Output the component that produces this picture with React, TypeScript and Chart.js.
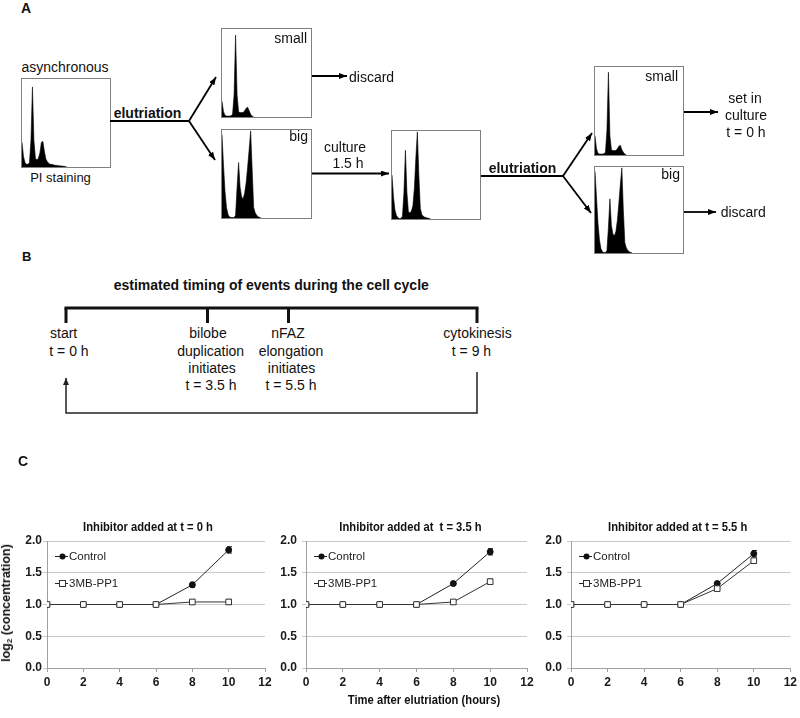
import React, { useEffect, useRef } from 'react';
import { Chart, registerables } from 'chart.js';
Chart.register(...registerables);

// ---------- Panel A: DNA-content histograms (relative height per channel bin, 60 bins) ----------
const histAsync = [28, 12, 5, 3, 3, 5, 30, 91, 30, 10, 8, 10, 16, 28, 29, 18, 9, 6, 4, 3, 3, 2.5, 2, 2, 1.5, 1.5, 1.2, 1, 0.8, 0.5, 0];
const histSmall1 = [18, 6, 2, 1, 1, 1, 1.5, 3, 25, 93, 25, 6, 5, 5, 5, 7, 10, 11, 7, 3, 1, 0];
const histBig1 = [95, 60, 30, 12, 4, 1, 0.5, 0.5, 0.5, 3, 35, 63, 35, 24, 22, 28, 40, 58, 78, 99, 55, 12, 6, 3, 1.5, 0.5, 0];
const histMid = [50, 25, 10, 4, 1.5, 0.5, 0.5, 3, 30, 78, 30, 8, 7, 9, 15, 35, 70, 99, 50, 12, 5, 3, 2, 1.5, 1, 0.5, 0];
const histSmall2 = [22, 7, 2, 1, 1, 1, 1.5, 3, 28, 94, 22, 6, 5, 5, 5, 7, 10, 11, 6, 3, 1, 0];
const histBig2 = [95, 65, 35, 15, 5, 1.5, 0.5, 0.5, 3, 30, 63, 32, 22, 20, 25, 38, 58, 80, 99, 50, 12, 6, 3, 1.5, 0.5, 0];

// ---------- Panel C ----------
const hours = [0, 2, 4, 6, 8, 10];
const xTicks = [0, 2, 4, 6, 8, 10, 12];
const yTicks = [0, 0.5, 1, 1.5, 2];
const seriesNames = ['Control', '3MB-PP1'];
const panelTitles = ['Inhibitor added at t = 0 h', 'Inhibitor added at  t = 3.5 h', 'Inhibitor added at t = 5.5 h'];

const control0 = [1, 1, 1, 1, 1.31, 1.86];
const inhib0 = [1, 1, 1, 1, 1.04, 1.04];
const controlErr0 = [0, 0, 0, 0, 0.04, 0.05];
const inhibErr0 = [0, 0, 0, 0, 0.03, 0.04];

const control35 = [1, 1, 1, 1, 1.33, 1.83];
const inhib35 = [1, 1, 1, 1, 1.04, 1.36];
const controlErr35 = [0, 0, 0, 0, 0.03, 0.05];
const inhibErr35 = [0, 0, 0, 0, 0.03, 0.04];

const control55 = [1, 1, 1, 1, 1.33, 1.8];
const inhib55 = [1, 1, 1, 1, 1.25, 1.69];
const controlErr55 = [0, 0, 0, 0, 0.03, 0.05];
const inhibErr55 = [0, 0, 0, 0, 0.03, 0.04];

const SANS = '"Liberation Sans", Arial, Helvetica, sans-serif';
const NARROW_SCALE = 0.83;

function Txt(props: {
  x: number;
  base: number;
  text: string;
  size?: number;
  bold?: boolean;
  align?: 'left' | 'center' | 'right';
  narrow?: boolean;
}) {
  const size = props.size ?? 14;
  const lh = Math.round(size * 1.25);
  const top = props.base - ((lh - 1.117 * size) / 2 + 0.905 * size);
  const style: any = {
    position: 'absolute',
    top,
    lineHeight: lh + 'px',
    fontSize: size,
    fontWeight: props.bold ? 'bold' : 'normal',
    fontFamily: SANS,
    whiteSpace: 'pre',
    color: '#111',
  };
  const align = props.align ?? 'left';
  const sx = props.narrow ? ` scaleX(${NARROW_SCALE})` : '';
  if (align === 'left') {
    style.left = props.x;
    if (sx) {
      style.transform = sx;
      style.transformOrigin = 'left center';
    }
  } else if (align === 'center') {
    style.left = props.x;
    style.transform = 'translateX(-50%)' + sx;
  } else style.right = 800 - props.x;
  return <div style={style}>{props.text}</div>;
}

function Histo(props: { data: number[]; left: number; top: number; w: number; h: number }) {
  const ref = useRef<HTMLCanvasElement>(null);
  useEffect(() => {
    const chart = new Chart(ref.current!, {
      type: 'line',
      data: {
        datasets: [
          {
            data: props.data.map((v, i) => ({ x: i, y: v })),
            fill: 'origin',
            backgroundColor: '#000',
            borderColor: '#000',
            borderWidth: 0.6,
            pointRadius: 0,
            tension: 0,
          },
        ],
      },
      options: {
        responsive: false,
        animation: false,
        events: [],
        layout: { padding: 0 },
        plugins: { legend: { display: false }, tooltip: { enabled: false } },
        scales: {
          x: { type: 'linear', display: false, min: 0, max: 59 },
          y: { display: false, min: 0, max: 100 },
        },
      },
    });
    return () => chart.destroy();
  }, []);
  return (
    <div
      style={{
        position: 'absolute',
        left: props.left,
        top: props.top,
        width: props.w,
        height: props.h,
        border: '1px solid #808080',
        boxSizing: 'border-box',
        background: '#fff',
      }}
    >
      <canvas ref={ref} width={props.w - 2} height={props.h - 2} style={{ display: 'block' }} />
    </div>
  );
}

type TCProps = {
  left: number;
  width: number;
  yw: number;
  padR: number;
  tickPad: number;
  title: string;
  titleDx: number;
  control: number[];
  inhib: number[];
  controlErr: number[];
  inhibErr: number[];
};

function TimeChart(p: TCProps) {
  const ref = useRef<HTMLCanvasElement>(null);
  useEffect(() => {
    const decor = {
      id: 'decor',
      beforeDatasetsDraw(chart: any) {
        const ctx = chart.ctx;
        const xs = chart.scales.x;
        const ys = chart.scales.y;
        ctx.save();
        ctx.strokeStyle = '#222';
        ctx.lineWidth = 1;
        const sets: [number[], number[]][] = [
          [p.control, p.controlErr],
          [p.inhib, p.inhibErr],
        ];
        sets.forEach(([vals, errs]) =>
          vals.forEach((v, i) => {
            const e = errs[i];
            if (!e) return;
            const x = Math.round(xs.getPixelForValue(hours[i])) + 0.5;
            const y1 = ys.getPixelForValue(v - e);
            const y2 = ys.getPixelForValue(v + e);
            ctx.beginPath();
            ctx.moveTo(x, y1);
            ctx.lineTo(x, y2);
            ctx.moveTo(x - 2.5, y1);
            ctx.lineTo(x + 2.5, y1);
            ctx.moveTo(x - 2.5, y2);
            ctx.lineTo(x + 2.5, y2);
            ctx.stroke();
          })
        );
        ctx.restore();
      },
      afterDraw(chart: any) {
        const ctx = chart.ctx;
        const a = chart.chartArea;
        ctx.save();
        ctx.font = `bold 13.5px ${SANS}`;
        ctx.fillStyle = '#111';
        ctx.textAlign = 'center';
        ctx.textBaseline = 'alphabetic';
        ctx.translate((a.left + a.right) / 2 + p.titleDx, a.top - 10.5);
        ctx.scale(NARROW_SCALE, 1);
        ctx.fillText(p.title, 0, 0);
        ctx.restore();

        ctx.save();
        seriesNames.forEach((name, i) => {
          const y = Math.round(a.top + 15 + i * 27) + 0.5;
          const x0 = a.left + 8;
          const x1 = a.left + 21;
          const xm = Math.round((x0 + x1) / 2) + 0.5;
          ctx.strokeStyle = '#222';
          ctx.lineWidth = 1;
          ctx.beginPath();
          ctx.moveTo(x0, y);
          ctx.lineTo(x1, y);
          ctx.stroke();
          if (i === 0) {
            ctx.fillStyle = '#111';
            ctx.beginPath();
            ctx.arc(xm, y, 3, 0, Math.PI * 2);
            ctx.fill();
          } else {
            ctx.fillStyle = '#fff';
            ctx.fillRect(xm - 3, y - 3, 6, 6);
            ctx.strokeStyle = '#333';
            ctx.strokeRect(xm - 3, y - 3, 6, 6);
          }
          ctx.fillStyle = '#222';
          ctx.font = `11.5px ${SANS}`;
          ctx.textAlign = 'left';
          ctx.textBaseline = 'middle';
          ctx.fillText(name, a.left + 22, y + 0.5);
        });
        ctx.restore();
      },
    };

    const tickFont = { family: SANS, size: 12, weight: 'bold' as const };
    const chart = new Chart(ref.current!, {
      type: 'line',
      data: {
        datasets: [
          {
            label: seriesNames[1],
            data: hours.map((h, i) => ({ x: h, y: p.inhib[i] })),
            borderColor: '#333',
            borderWidth: 1,
            pointStyle: 'rect',
            pointRadius: 4,
            pointBackgroundColor: '#fff',
            pointBorderColor: '#333',
            pointBorderWidth: 1,
            tension: 0,
            order: 0,
          },
          {
            label: seriesNames[0],
            data: hours.map((h, i) => ({ x: h, y: p.control[i] })),
            borderColor: '#222',
            borderWidth: 1,
            pointStyle: 'circle',
            pointRadius: 3,
            pointBackgroundColor: '#111',
            pointBorderColor: '#111',
            pointBorderWidth: 1,
            tension: 0,
            order: 1,
          },
        ],
      },
      options: {
        responsive: false,
        animation: false,
        events: [],
        layout: { padding: { top: 36, bottom: 20, left: 0, right: p.padR } },
        plugins: { legend: { display: false }, tooltip: { enabled: false }, title: { display: false } },
        scales: {
          x: {
            type: 'linear',
            min: xTicks[0],
            max: xTicks[xTicks.length - 1],
            afterFit: (s: any) => {
              s.height = 30;
            },
            afterBuildTicks: (s: any) => {
              s.ticks = xTicks.map((v) => ({ value: v }));
            },
            ticks: { padding: 3, color: '#1a1a1a', font: tickFont, maxRotation: 0, autoSkip: false },
            grid: { drawOnChartArea: false, drawTicks: true, tickLength: 4, color: '#a0a0a0' },
            border: { color: '#a0a0a0' },
          },
          y: {
            min: yTicks[0],
            max: yTicks[yTicks.length - 1],
            afterFit: (s: any) => {
              s.width = p.yw;
            },
            afterBuildTicks: (s: any) => {
              s.ticks = yTicks.map((v) => ({ value: v }));
            },
            ticks: {
              padding: p.tickPad,
              color: '#1a1a1a',
              font: tickFont,
              autoSkip: false,
              callback: (v: any) => Number(v).toFixed(1),
            },
            grid: { color: '#c8c8c8', tickLength: 4 },
            border: { color: '#a0a0a0' },
          },
        },
      },
      plugins: [decor],
    });
    return () => chart.destroy();
  }, []);
  return <canvas ref={ref} width={p.width} height={213} style={{ position: 'absolute', left: p.left, top: 505 }} />;
}

export default function App() {
  return (
    <div
      style={{
        position: 'absolute',
        left: 0,
        top: 0,
        width: 800,
        height: 718,
        overflow: 'hidden',
        background: '#fff',
        fontFamily: SANS,
      }}
    >
      {/* ---------- Panel A ---------- */}
      <Txt x={21} base={12.5} text="A" bold size={14} />
      <Txt x={65} base={72} text="asynchronous" align="center" />
      <Histo data={histAsync} left={21} top={78} w={90} h={90} />
      <Txt x={60.5} base={183} text="PI staining" align="center" size={13} />
      <Txt x={147.5} base={118} text="elutriation" align="center" bold />

      <Histo data={histSmall1} left={221} top={28} w={91} h={90} />
      <Txt x={307} base={42.5} text="small" align="right" />
      <Histo data={histBig1} left={221} top={129} w={91} h={90} />
      <Txt x={308} base={141} text="big" align="right" />
      <Txt x={349} base={81.5} text="discard" />
      <Txt x={345} base={151.5} text="culture" align="center" />
      <Txt x={348} base={168.3} text="1.5 h" align="center" />

      <Histo data={histMid} left={391} top={130} w={90} h={90} />
      <Txt x={522.5} base={173} text="elutriation" align="center" bold />

      <Histo data={histSmall2} left={594} top={66} w={90} h={90} />
      <Txt x={678} base={81} text="small" align="right" />
      <Histo data={histBig2} left={594} top={166} w={90} h={88} />
      <Txt x={680} base={179} text="big" align="right" />
      <Txt x={745} base={103.3} text="set in" align="center" />
      <Txt x={746} base={120} text="culture" align="center" />
      <Txt x={746} base={136.7} text="t = 0 h" align="center" />
      <Txt x={720.7} base={216.7} text="discard" />

      {/* ---------- Panel B ---------- */}
      <Txt x={22} base={261.7} text="B" bold size={13} />
      <Txt x={271.3} base={290} text="estimated timing of events during the cell cycle" align="center" bold />
      <Txt x={50} base={338} text="start" />
      <Txt x={49.3} base={355.5} text="t = 0 h" />
      <Txt x={208} base={338} text="bilobe" align="center" />
      <Txt x={210.7} base={355.5} text="duplication" align="center" />
      <Txt x={212} base={373} text="initiates" align="center" />
      <Txt x={211} base={390} text="t = 3.5 h" align="center" />
      <Txt x={288} base={338} text="nFAZ" align="center" />
      <Txt x={291} base={355.5} text="elongation" align="center" />
      <Txt x={291.5} base={373} text="initiates" align="center" />
      <Txt x={291} base={390} text="t = 5.5 h" align="center" />
      <Txt x={477.5} base={338} text="cytokinesis" align="center" />
      <Txt x={471.5} base={355.5} text="t = 9 h" align="center" />

      <svg width={800} height={718} style={{ position: 'absolute', left: 0, top: 0, pointerEvents: 'none' }}>
        <defs>
          <marker id="ah" markerWidth="8" markerHeight="6" refX="8" refY="3" orient="auto" markerUnits="userSpaceOnUse">
            <path d="M0,0 L8,3 L0,6 z" fill="#000" />
          </marker>
          <marker id="ah2" markerWidth="7" markerHeight="6" refX="7" refY="3" orient="auto" markerUnits="userSpaceOnUse">
            <path d="M0,0 L7,3 L0,6 z" fill="#222" />
          </marker>
        </defs>
        <g stroke="#000" strokeWidth={1.8} fill="none">
          <line x1={110} y1={121} x2={189} y2={121} />
          <line x1={189} y1={121} x2={216} y2={77} markerEnd="url(#ah)" />
          <line x1={189} y1={121} x2={215} y2={160} markerEnd="url(#ah)" />
          <line x1={312} y1={76} x2={347} y2={76} markerEnd="url(#ah)" />
          <line x1={312} y1={173.5} x2={389} y2={173.5} markerEnd="url(#ah)" />
          <line x1={481} y1={176} x2={563} y2={176} />
          <line x1={563} y1={176} x2={592} y2={133} markerEnd="url(#ah)" />
          <line x1={563} y1={176} x2={591} y2={213} markerEnd="url(#ah)" />
          <line x1={684} y1={112} x2={718} y2={112} markerEnd="url(#ah)" />
          <line x1={684} y1={212} x2={716} y2={212} markerEnd="url(#ah)" />
        </g>
        <g stroke="#111" strokeWidth={3} fill="none">
          <line x1={64.5} y1={308} x2={478.5} y2={308} />
          <line x1={66} y1={308} x2={66} y2={323} />
          <line x1={207.5} y1={308} x2={207.5} y2={323} />
          <line x1={288.5} y1={308} x2={288.5} y2={323} />
          <line x1={477} y1={308} x2={477} y2={323} />
        </g>
        <path d="M477,372 L477,413 L66,413 L66,378" stroke="#222" strokeWidth={1.5} fill="none" markerEnd="url(#ah2)" />
      </svg>

      {/* ---------- Panel C ---------- */}
      <Txt x={18} base={465.7} text="C" bold size={14} />
      <TimeChart left={0} width={280} yw={47} padR={15} tickPad={1} title={panelTitles[0]} titleDx={-8}
        control={control0} inhib={inhib0} controlErr={controlErr0} inhibErr={inhibErr0} />
      <TimeChart left={272} width={268} yw={34} padR={13} tickPad={5} title={panelTitles[1]} titleDx={-6}
        control={control35} inhib={inhib35} controlErr={controlErr35} inhibErr={inhibErr35} />
      <TimeChart left={536} width={264} yw={35} padR={7} tickPad={5} title={panelTitles[2]} titleDx={-3}
        control={control55} inhib={inhib55} controlErr={controlErr55} inhibErr={inhibErr55} />
      <div
        style={{
          position: 'absolute',
          left: 7.5,
          top: 603,
          transform: 'translate(-50%, -50%) rotate(-90deg)',
          whiteSpace: 'nowrap',
          fontFamily: SANS,
          fontWeight: 'bold',
          fontSize: 12.5,
          lineHeight: '14px',
          color: '#111',
        }}
      >
        log<sub style={{ fontSize: 8, verticalAlign: '-2px' }}>2</sub> (concentration)
      </div>
      <Txt x={424} base={704} text="Time after elutriation (hours)" align="center" bold size={13.5} narrow />
    </div>
  );
}
